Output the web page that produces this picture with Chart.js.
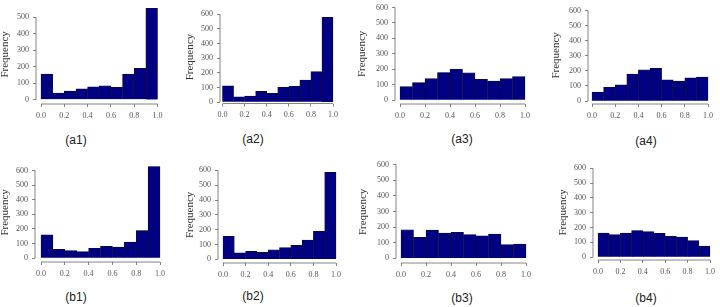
<!DOCTYPE html>
<html><head><meta charset="utf-8">
<script src="https://cdn.jsdelivr.net/npm/chart.js@4"></script>
<style>
html,body{margin:0;padding:0;background:#fff;width:720px;height:307px;overflow:hidden;position:relative}
canvas{position:absolute}
.cap{position:absolute;font-family:"Liberation Sans",Arial,sans-serif;font-size:12px;color:#222;transform:translate(-50%,-50%);white-space:nowrap}
</style></head><body>
<script>
// ---- data ----
const binCenters = [0.05, 0.15, 0.25, 0.35, 0.45, 0.55, 0.65, 0.75, 0.85, 0.95];
const xTicks = [0, 0.2, 0.4, 0.6, 0.8, 1.0];
const yTicks500 = [0, 100, 200, 300, 400, 500];
const yTicks600 = [0, 100, 200, 300, 400, 500, 600];
const freqA1 = [155, 39, 51, 65, 78, 84, 75, 155, 190, 553];
const freqA2 = [110, 35, 40, 73, 60, 100, 108, 150, 208, 580];
const freqA3 = [88, 114, 139, 179, 200, 177, 135, 124, 139, 152];
const freqA4 = [60, 93, 108, 179, 207, 216, 140, 132, 153, 158];
const freqB1 = [160, 60, 51, 44, 67, 80, 76, 109, 189, 627];
const freqB2 = [155, 44, 55, 48, 65, 79, 94, 131, 190, 587];
const freqB3 = [183, 135, 181, 162, 167, 152, 144, 156, 88, 92];
const freqB4 = [163, 152, 163, 180, 172, 161, 141, 135, 111, 74];
const yLabel = 'Frequency';

// ---- layout (pixel placement of each panel) ----
const panels = [
 {data:freqA1, ticks:yTicks500, cap:'(a1)', axisX:36,  x0:41,    x1:157.5, axisY:104,   y0:99.5,  yT:15,    freqX:5,   capX:76,  capY:140},
 {data:freqA2, ticks:yTicks600, cap:'(a2)', axisX:220, x0:222.5, x1:333,   axisY:103.5, y0:102,   yT:12.3,  freqX:190, capX:253, capY:139},
 {data:freqA3, ticks:yTicks600, cap:'(a3)', axisX:395, x0:400,   x1:525,   axisY:104,   y0:100,   yT:5,     freqX:362, capX:462, capY:139},
 {data:freqA4, ticks:yTicks600, cap:'(a4)', axisX:588, x0:592,   x1:708,   axisY:104,   y0:101,   yT:8.3,   freqX:556, capX:646, capY:141},
 {data:freqB1, ticks:yTicks600, cap:'(b1)', axisX:35,  x0:41,    x1:160,   axisY:262,   y0:258,   yT:168.3, freqX:5,   capX:76,  capY:297},
 {data:freqB2, ticks:yTicks600, cap:'(b2)', axisX:218, x0:223,   x1:336,   axisY:263,   y0:259.3, yT:167.7, freqX:190, capX:253, capY:296},
 {data:freqB3, ticks:yTicks600, cap:'(b3)', axisX:396, x0:401,   x1:526,   axisY:263,   y0:258.3, yT:162.3, freqX:363, capX:462, capY:298},
 {data:freqB4, ticks:yTicks600, cap:'(b4)', axisX:593, x0:598,   x1:710,   axisY:260,   y0:257,   yT:165.7, freqX:563, capX:646, capY:298}
];

const rAxes = {
  id: 'rAxes',
  afterDraw(chart) {
    const ctx = chart.ctx, xs = chart.scales.x, ys = chart.scales.y, a = chart.chartArea;
    const yt = ys.ticks, xt = xs.ticks;
    ctx.save();
    ctx.strokeStyle = '#666';
    ctx.lineWidth = 0.8;
    ctx.beginPath();
    ctx.moveTo(a.left, ys.getPixelForValue(yt[0].value));
    ctx.lineTo(a.left, ys.getPixelForValue(yt[yt.length - 1].value));
    ctx.moveTo(xs.getPixelForValue(xt[0].value), a.bottom);
    ctx.lineTo(xs.getPixelForValue(xt[xt.length - 1].value), a.bottom);
    ctx.stroke();
    ctx.restore();
  }
};

const tickFont = {family: '"Liberation Serif", "DejaVu Serif", serif', size: 8};

panels.forEach(p => {
  const topTick = p.ticks[p.ticks.length - 1];
  const perY = (p.y0 - p.yT) / topTick;
  const dataMax = Math.max(topTick, ...p.data);
  const ymax = 1.04 * dataMax;
  const ymin = -(p.axisY - p.y0) / perY;
  const areaTop = p.y0 - ymax * perY;
  const perX = p.x1 - p.x0;
  const xmin = -(p.x0 - p.axisX) / perX;
  const xmax = 1.04;
  const areaRight = p.x0 + xmax * perX;

  const left = Math.round(p.freqX - 5.5);
  const top = Math.floor(areaTop - 6);
  const W = Math.round(areaRight + 10 - left);
  const H = Math.round(p.axisY + 22 - top);

  const cv = document.createElement('canvas');
  cv.width = W; cv.height = H;
  cv.style.left = left + 'px'; cv.style.top = top + 'px';
  cv.style.width = W + 'px'; cv.style.height = H + 'px';
  document.body.appendChild(cv);

  const cap = document.createElement('div');
  cap.className = 'cap';
  cap.textContent = p.cap;
  cap.style.left = p.capX + 'px'; cap.style.top = p.capY + 'px';
  document.body.appendChild(cap);

  new Chart(cv, {
    type: 'bar',
    data: {
      datasets: [{
        data: binCenters.map((c, i) => ({x: c, y: p.data[i]})),
        backgroundColor: '#000080',
        borderColor: '#0a0a3c',
        borderWidth: 0.7,
        barPercentage: 1,
        categoryPercentage: 1
      }]
    },
    options: {
      responsive: false,
      animation: false,
      events: [],
      layout: {padding: {top: areaTop - top, right: W - (areaRight - left), left: 0, bottom: 0}},
      plugins: {legend: {display: false}, tooltip: {enabled: false}},
      scales: {
        x: {
          type: 'linear', min: xmin, max: xmax, offset: false, bounds: 'data',
          afterBuildTicks: s => { s.ticks = xTicks.map(v => ({value: v})); },
          afterFit: s => { s.height = H - (p.axisY - top); },
          grid: {display: true, drawOnChartArea: false, drawTicks: true, tickLength: 3, color: '#666', lineWidth: 0.8, offset: false},
          border: {display: false},
          ticks: {font: tickFont, color: '#555', padding: 4, maxRotation: 0, autoSkip: false,
                  callback: v => Number(v).toFixed(1)}
        },
        y: {
          type: 'linear', min: ymin, max: ymax, bounds: 'data',
          afterBuildTicks: s => { s.ticks = p.ticks.map(v => ({value: v})); },
          afterFit: s => { s.width = p.axisX - left; },
          grid: {display: true, drawOnChartArea: false, drawTicks: true, tickLength: 3, color: '#666', lineWidth: 0.8},
          border: {display: false},
          ticks: {font: tickFont, color: '#555', padding: 4, autoSkip: false, callback: v => String(v)},
          title: {display: true, text: yLabel, color: '#333', padding: 0,
                  font: {family: '"Liberation Serif", "DejaVu Serif", serif', size: 11, lineHeight: 1}}
        }
      }
    },
    plugins: [rAxes]
  });
});
</script>
</body></html>
